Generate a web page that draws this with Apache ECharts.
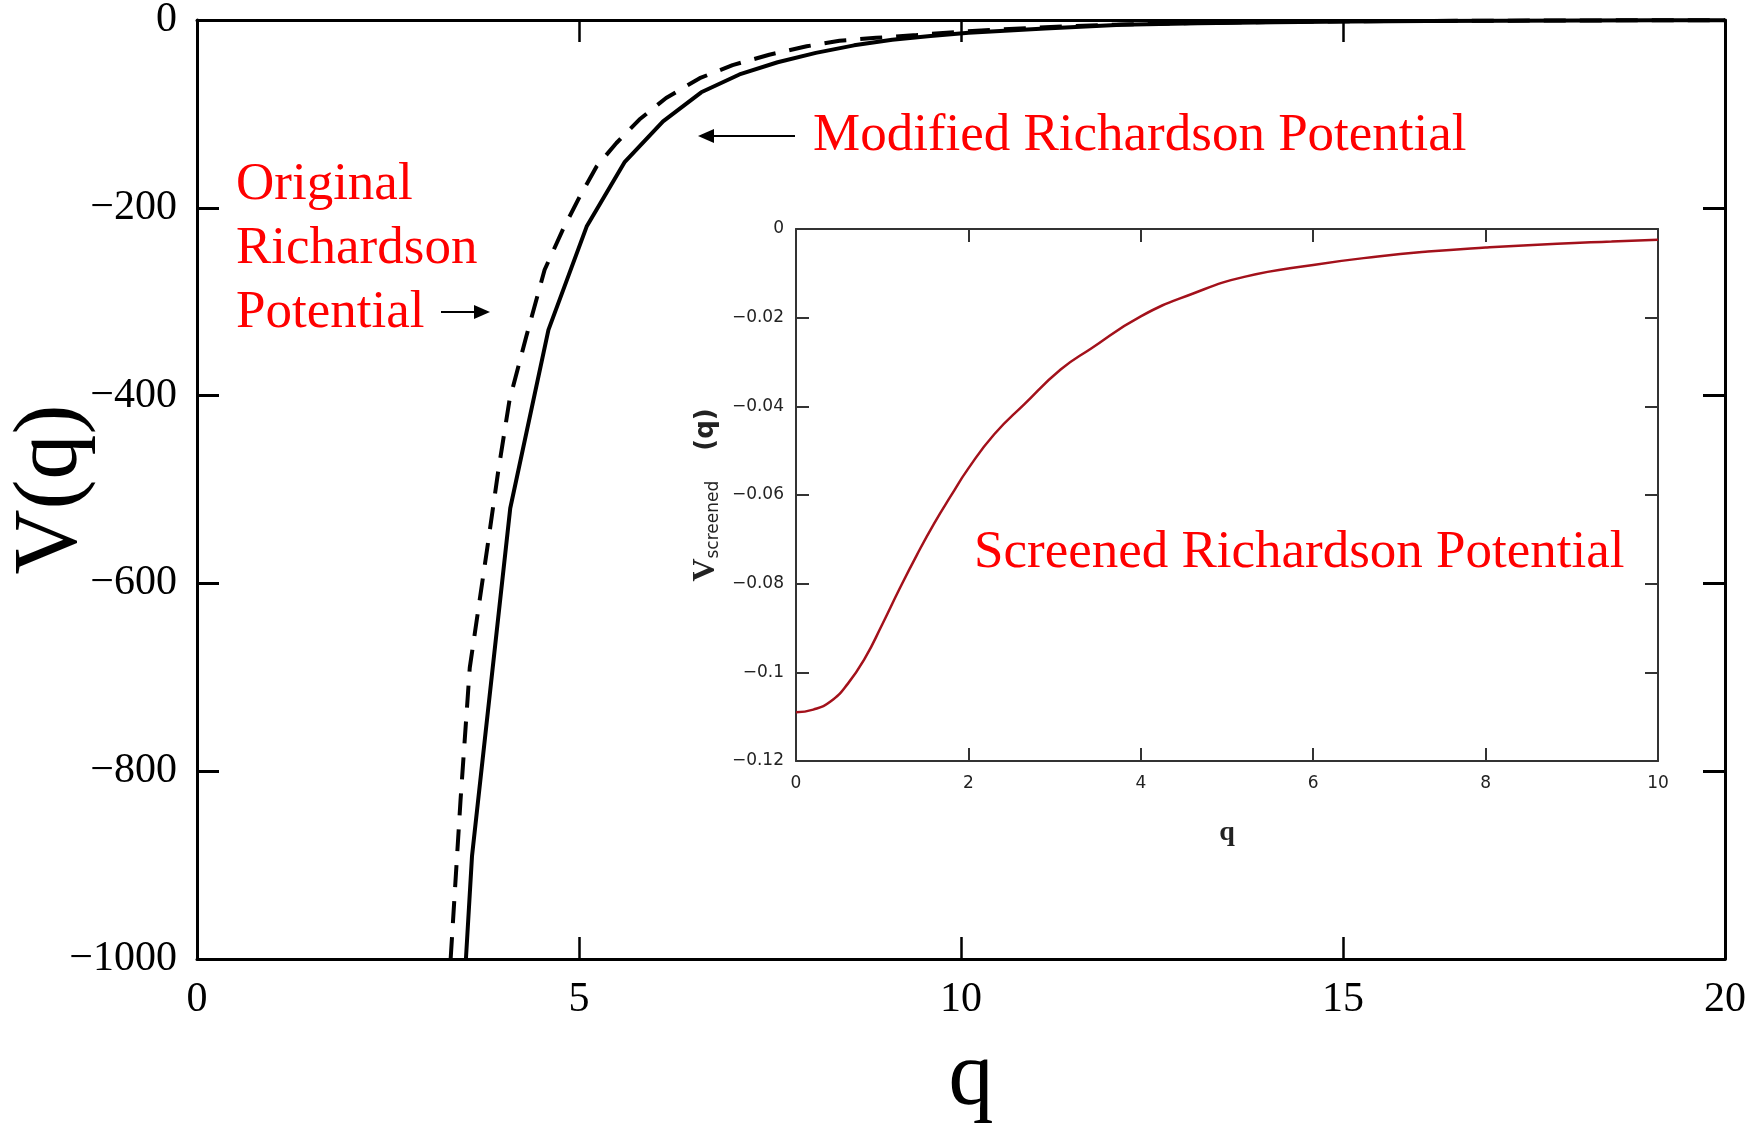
<!DOCTYPE html>
<html>
<head>
<meta charset="utf-8">
<title>Richardson Potential</title>
<script src="https://cdn.jsdelivr.net/npm/echarts@6/dist/echarts.min.js"></script>
<style>
  html, body { margin: 0; padding: 0; background: #fff; }
  #chart { width: 1759px; height: 1129px; }
</style>
</head>
<body>
<div id="chart"></div>
<script>
// Main plot: original Richardson potential (dashed)
const qOriginal = [3.32, 3.45, 3.57, 3.8, 3.94, 4.09, 4.31, 4.55, 4.79, 5.01, 5.23, 5.49, 5.79, 6.14, 6.58, 7.01, 7.49, 7.98, 8.41, 8.89, 9.42, 10, 11, 12, 13, 14, 15, 16, 17, 18, 19, 20];
const vOriginal = [-1000, -830, -690, -562, -482, -405, -337, -266, -223, -188, -156, -131, -106, -83, -62, -48, -37, -28, -22, -19, -16, -12.4, -8, -5, -3.2, -2.2, -1.4, -1, -0.7, -0.5, -0.3, -0.2];

// Main plot: modified Richardson potential (solid)
const qModified = [3.52, 3.6, 4.1, 4.6, 5.1, 5.6, 6.1, 6.6, 7.1, 7.6, 8.1, 8.6, 9.1, 9.6, 10.1, 11.1, 12.1, 13.1, 14.1, 15.1, 16.1, 17.1, 18.1, 19.1, 20];
const vModified = [-1000, -890, -520, -330, -220, -151, -108, -77, -58, -45, -35, -27, -21, -17, -13.5, -9, -5, -3.5, -2.5, -1.5, -1, -0.7, -0.5, -0.3, -0.2];

// Inset: screened Richardson potential
const qScreened = [0, 0.2, 0.4, 0.6, 0.8, 1.0, 1.2, 1.4, 1.6, 1.8, 2.0, 2.3, 2.65, 3.07, 3.42, 4.0, 4.6, 5.2, 6, 6.75, 7.33, 8, 8.83, 9.46, 10];
const vScreened = [-0.109, -0.1084, -0.1066, -0.1026, -0.0968, -0.0892, -0.0812, -0.0736, -0.0665, -0.0601, -0.0540, -0.0463, -0.0395, -0.0317, -0.027, -0.0197, -0.0146, -0.0108, -0.0081, -0.0062, -0.0051, -0.0042, -0.0033, -0.0028, -0.0024];

const pairs = (xs, ys) => xs.map((x, i) => [x, ys[i]]);
const minus = v => (v === 0 ? '0' : '\u2212' + String(+Math.abs(v).toFixed(2)));

const serif = '"Liberation Serif", "Times New Roman", serif';
const sans = '"DejaVu Sans", sans-serif';
const red = '#ff0000';

const chart = echarts.init(document.getElementById('chart'));

chart.setOption({
    backgroundColor: '#fff',
    animation: false,
    grid: [
        { left: 197, right: 34, top: 20, bottom: 170, outerBoundsMode: 'none', containLabel: false },
        { left: 796, right: 101, top: 229, bottom: 368, outerBoundsMode: 'none', containLabel: false }
    ],
    xAxis: [
        {
            gridIndex: 0, type: 'value', min: 0, max: 20, interval: 5,
            name: 'q', nameLocation: 'middle', nameGap: 76, nameMoveOverlap: false,
            nameTextStyle: { fontFamily: serif, fontSize: 90, color: '#000', padding: [0, 0, 0, 20] },
            axisLine: { onZero: false, lineStyle: { color: '#000', width: 3 } },
            axisTick: { inside: true, length: 22, lineStyle: { color: '#000', width: 2.5 } },
            axisLabel: { fontFamily: serif, fontSize: 42, color: '#000', margin: 20 },
            splitLine: { show: false }
        },
        {
            gridIndex: 0, type: 'value', min: 0, max: 20, interval: 5, position: 'top',
            axisLine: { onZero: false, lineStyle: { color: '#000', width: 3 } },
            axisTick: { inside: true, length: 22, lineStyle: { color: '#000', width: 2.5 } },
            axisLabel: { show: false },
            splitLine: { show: false }
        },
        {
            gridIndex: 1, type: 'value', min: 0, max: 10, interval: 2,
            name: 'q', nameLocation: 'middle', nameGap: 58, nameMoveOverlap: false,
            nameTextStyle: { fontFamily: serif, fontSize: 28, fontWeight: 'bold', color: '#222' },
            axisLine: { onZero: false, lineStyle: { color: '#333', width: 2 } },
            axisTick: { inside: true, length: 13, lineStyle: { color: '#333', width: 2 } },
            axisLabel: { fontFamily: sans, fontSize: 17, color: '#222', margin: 14 },
            splitLine: { show: false }
        },
        {
            gridIndex: 1, type: 'value', min: 0, max: 10, interval: 2, position: 'top',
            axisLine: { onZero: false, lineStyle: { color: '#333', width: 2 } },
            axisTick: { inside: true, length: 13, lineStyle: { color: '#333', width: 2 } },
            axisLabel: { show: false },
            splitLine: { show: false }
        }
    ],
    yAxis: [
        {
            gridIndex: 0, type: 'value', min: -1000, max: 0, interval: 200,
            name: 'V(q)', nameLocation: 'middle', nameGap: 100, nameMoveOverlap: false,
            nameTextStyle: { fontFamily: serif, fontSize: 90, color: '#000' },
            axisLine: { onZero: false, lineStyle: { color: '#000', width: 3 } },
            axisTick: { inside: true, length: 22, lineStyle: { color: '#000', width: 3 } },
            axisLabel: { fontFamily: serif, fontSize: 42, color: '#000', margin: 20, formatter: minus },
            splitLine: { show: false }
        },
        {
            gridIndex: 0, type: 'value', min: -1000, max: 0, interval: 200, position: 'right',
            axisLine: { onZero: false, lineStyle: { color: '#000', width: 3 } },
            axisTick: { inside: true, length: 22, lineStyle: { color: '#000', width: 3 } },
            axisLabel: { show: false },
            splitLine: { show: false }
        },
        {
            gridIndex: 1, type: 'value', min: -0.12, max: 0, interval: 0.02,
            name: '{v|V}{s|screened}{g|}{p|(q)}', nameLocation: 'middle', nameGap: 74, nameMoveOverlap: false,
            nameTextStyle: {
                color: '#222',
                rich: {
                    v: { fontFamily: serif, fontSize: 32, fontWeight: 'bold', color: '#222', verticalAlign: 'middle' },
                    s: { fontFamily: sans, fontSize: 17, color: '#222', verticalAlign: 'bottom' },
                    g: { width: 30 },
                    p: { fontFamily: sans, fontSize: 26, fontWeight: 'bold', color: '#222', verticalAlign: 'middle' }
                }
            },
            axisLine: { onZero: false, lineStyle: { color: '#333', width: 2 } },
            axisTick: { inside: true, length: 13, lineStyle: { color: '#333', width: 2 } },
            axisLabel: { fontFamily: sans, fontSize: 17, color: '#222', margin: 12, formatter: minus },
            splitLine: { show: false }
        },
        {
            gridIndex: 1, type: 'value', min: -0.12, max: 0, interval: 0.02, position: 'right',
            axisLine: { onZero: false, lineStyle: { color: '#333', width: 2 } },
            axisTick: { inside: true, length: 13, lineStyle: { color: '#333', width: 2 } },
            axisLabel: { show: false },
            splitLine: { show: false }
        }
    ],
    series: [
        {
            name: 'Original Richardson Potential', type: 'line',
            xAxisIndex: 0, yAxisIndex: 0,
            data: pairs(qOriginal, vOriginal),
            showSymbol: false, symbol: 'none',
            lineStyle: { color: '#000', width: 4, type: [22, 14] }
        },
        {
            name: 'Modified Richardson Potential', type: 'line',
            xAxisIndex: 0, yAxisIndex: 0,
            data: pairs(qModified, vModified),
            showSymbol: false, symbol: 'none',
            lineStyle: { color: '#000', width: 4 }
        },
        {
            name: 'Screened Richardson Potential', type: 'line',
            xAxisIndex: 2, yAxisIndex: 2,
            data: pairs(qScreened, vScreened),
            smooth: 0.5,
            showSymbol: false, symbol: 'none',
            lineStyle: { color: '#a3111b', width: 2.5 }
        }
    ],
    graphic: [
        // labels
        { type: 'text', x: 236, y: 185, style: { text: 'Original', font: '53px ' + serif, fill: red, verticalAlign: 'middle' } },
        { type: 'text', x: 236, y: 249, style: { text: 'Richardson', font: '53px ' + serif, fill: red, verticalAlign: 'middle' } },
        { type: 'text', x: 236, y: 313, style: { text: 'Potential', font: '53px ' + serif, fill: red, verticalAlign: 'middle' } },
        { type: 'text', x: 813, y: 136, style: { text: 'Modified Richardson Potential', font: '53px ' + serif, fill: red, verticalAlign: 'middle' } },
        { type: 'text', x: 974, y: 553, style: { text: 'Screened Richardson Potential', font: '53px ' + serif, fill: red, verticalAlign: 'middle' } },
        // arrow to the dashed curve
        { type: 'line', shape: { x1: 441, y1: 312, x2: 478, y2: 312 }, style: { stroke: '#000', lineWidth: 2 } },
        { type: 'polygon', shape: { points: [[474, 305], [490, 312], [474, 319]] }, style: { fill: '#000' } },
        // arrow to the solid curve
        { type: 'line', shape: { x1: 795, y1: 136, x2: 710, y2: 136 }, style: { stroke: '#000', lineWidth: 2 } },
        { type: 'polygon', shape: { points: [[714, 129], [698, 136], [714, 143]] }, style: { fill: '#000' } }
    ]
});
</script>
</body>
</html>
